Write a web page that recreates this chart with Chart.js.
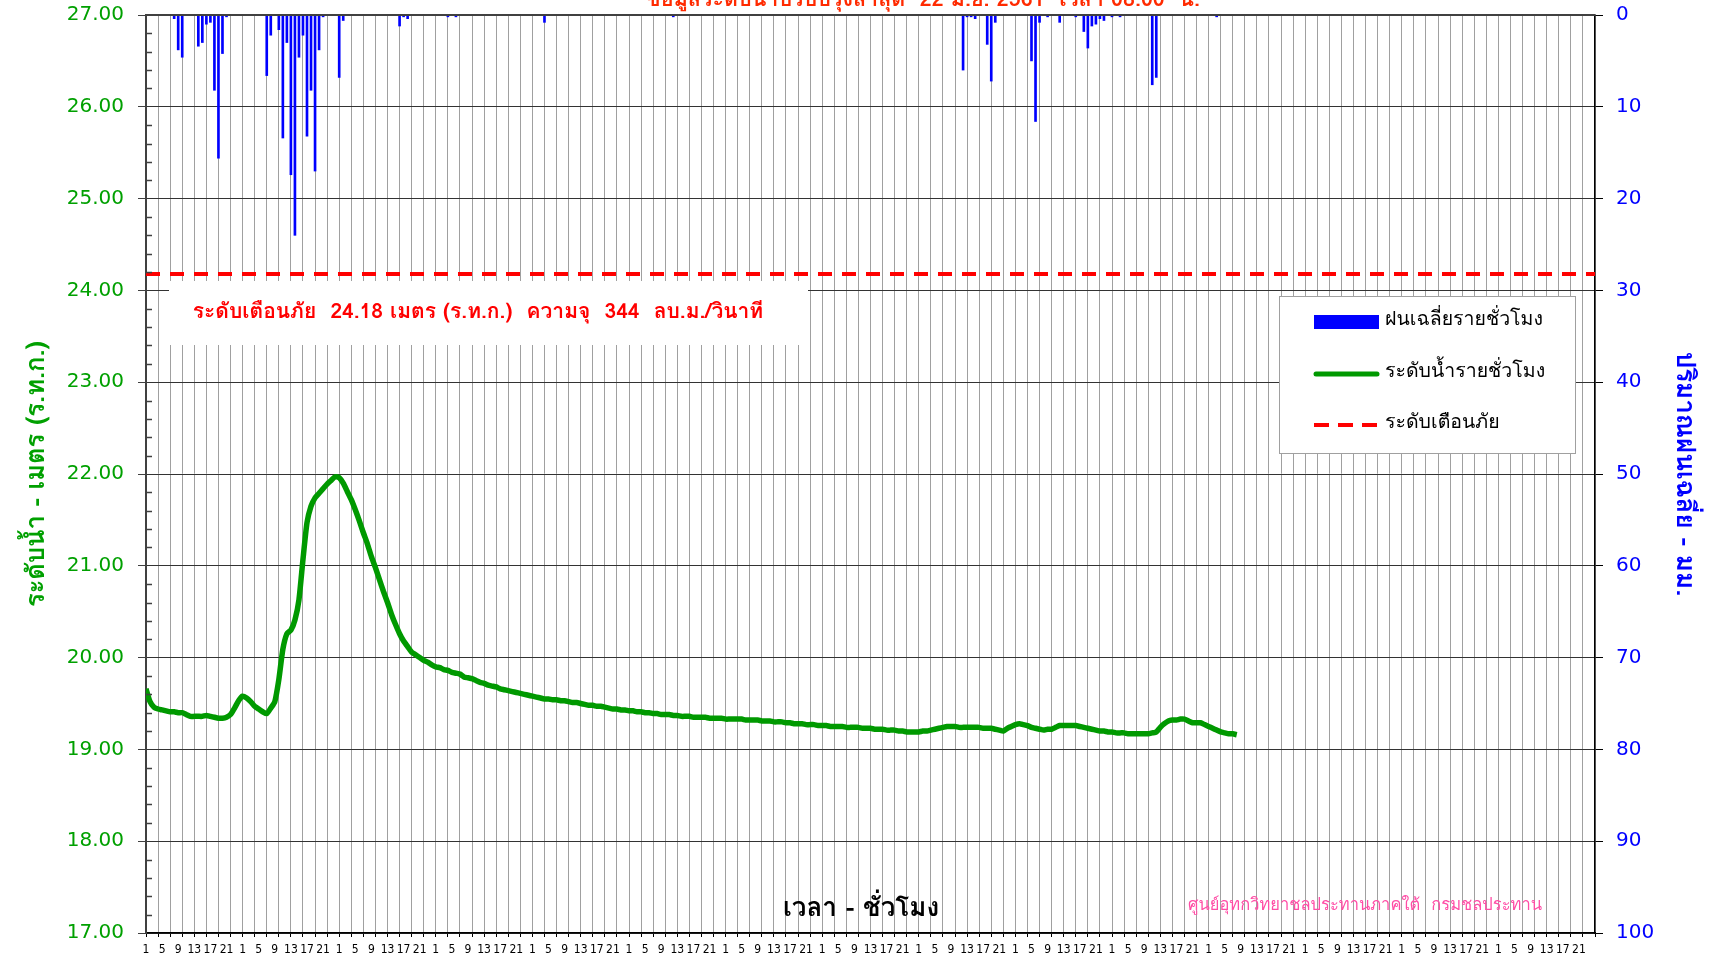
<!DOCTYPE html>
<html>
<head>
<meta charset="utf-8">
<script src="https://cdn.jsdelivr.net/npm/chart.js@4.4.1/dist/chart.umd.min.js"></script>
<style>
  body { margin: 0; background: #fff; }
  canvas { display: block; }
</style>
</head>
<body>
<canvas id="levelChart" width="1713" height="957"></canvas>
<script>
// hourly water level (m, MSL) from hour 1 of day 1 up to 22 Jun 08:00
const waterLevel = [
  19.66, 19.52, 19.46, 19.44, 19.43, 19.42, 19.41, 19.41, 19.40, 19.40, 19.38, 19.36,
  19.36, 19.36, 19.36, 19.37, 19.36, 19.35, 19.34, 19.34, 19.35, 19.38, 19.45, 19.53,
  19.58, 19.56, 19.52, 19.47, 19.44, 19.41, 19.39, 19.45, 19.52, 19.76, 20.09, 20.26,
  20.30, 20.41, 20.63, 21.07, 21.47, 21.65, 21.74, 21.79, 21.84, 21.89, 21.93, 21.97,
  21.96, 21.90, 21.81, 21.72, 21.61, 21.49, 21.36, 21.24, 21.10, 20.98, 20.85, 20.72,
  20.60, 20.47, 20.36, 20.26, 20.18, 20.12, 20.06, 20.03, 20.00, 19.97, 19.95, 19.92,
  19.90, 19.89, 19.87, 19.86, 19.84, 19.83, 19.82, 19.79, 19.78, 19.77, 19.75, 19.73,
  19.72, 19.70, 19.69, 19.68, 19.66, 19.65, 19.64, 19.63, 19.62, 19.61, 19.60, 19.59,
  19.58, 19.57, 19.56, 19.55, 19.55, 19.54, 19.54, 19.53, 19.53, 19.52, 19.51, 19.51,
  19.50, 19.49, 19.48, 19.48, 19.47, 19.47, 19.46, 19.45, 19.44, 19.44, 19.43, 19.43,
  19.42, 19.42, 19.41, 19.41, 19.40, 19.40, 19.39, 19.39, 19.38, 19.38, 19.38, 19.37,
  19.37, 19.36, 19.36, 19.36, 19.35, 19.35, 19.35, 19.35, 19.34, 19.34, 19.34, 19.34,
  19.33, 19.33, 19.33, 19.33, 19.33, 19.32, 19.32, 19.32, 19.32, 19.31, 19.31, 19.31,
  19.30, 19.30, 19.30, 19.29, 19.29, 19.28, 19.28, 19.28, 19.27, 19.27, 19.27, 19.26,
  19.26, 19.26, 19.25, 19.25, 19.25, 19.25, 19.24, 19.24, 19.24, 19.24, 19.23, 19.23,
  19.23, 19.22, 19.22, 19.22, 19.21, 19.21, 19.21, 19.20, 19.20, 19.19, 19.19, 19.19,
  19.19, 19.20, 19.20, 19.21, 19.22, 19.23, 19.24, 19.25, 19.25, 19.25, 19.24, 19.24,
  19.24, 19.24, 19.24, 19.24, 19.23, 19.23, 19.23, 19.22, 19.21, 19.20, 19.23, 19.25,
  19.27, 19.28, 19.27, 19.26, 19.24, 19.23, 19.22, 19.21, 19.22, 19.22, 19.24, 19.26,
  19.26, 19.26, 19.26, 19.26, 19.25, 19.24, 19.23, 19.22, 19.21, 19.20, 19.20, 19.19,
  19.19, 19.18, 19.18, 19.18, 19.17, 19.17, 19.17, 19.17, 19.17, 19.17, 19.18, 19.19,
  19.24, 19.28, 19.31, 19.32, 19.32, 19.33, 19.33, 19.31, 19.29, 19.29, 19.29, 19.27,
  19.25, 19.23, 19.21, 19.19, 19.18, 19.17, 19.17, 19.16
];

// hourly average rain (mm) - only the hours that had rain
const rainHour = [7, 8, 9, 13, 14, 15, 16, 17, 18, 19, 20, 30, 31, 33, 34, 35, 36, 37, 38, 39, 40,
  41, 42, 43, 44, 48, 49, 63, 64, 65, 75, 77, 99, 131, 203, 204, 205, 206, 209, 210, 211,
  220, 221, 222, 224, 227, 231, 233, 234, 235, 236, 237, 238, 240, 242, 250, 251, 266];
const rainMm = [0.4, 3.8, 4.6, 3.4, 3.0, 1.0, 0.8, 8.2, 15.6, 4.2, 0.2, 6.6, 2.2, 1.6, 13.4, 3.0, 17.4, 24.0, 4.6, 2.2, 13.2,
  8.2, 17.0, 3.8, 0.2, 6.8, 0.6, 1.2, 0.2, 0.4, 0.2, 0.2, 0.8, 0.2, 6.0, 0.2, 0.2, 0.4, 3.2, 7.2, 0.8,
  5.0, 11.6, 0.8, 0.2, 0.8, 0.2, 1.8, 3.6, 1.2, 1.0, 0.4, 0.6, 0.2, 0.2, 7.6, 6.8, 0.2];

const warnLevel = 24.18;
const totalHours = 360;   // 15 days on the time axis
const hourLabels = ['1', '5', '9', '13', '17', '21'];

const thaiFont = 'Tahoma, Waree, Loma, "Noto Sans Thai", "Noto Sans", sans-serif';
const green = '#009900';

// extra drawing: frame top, minor ticks, notes and legend box
const notes = {
  id: 'notes',
  beforeDatasetsDraw(chart) {
    const ctx = chart.ctx;
    ctx.save();
    // white boxes hide the grid behind the warning note and the legend
    ctx.fillStyle = '#fff';
    ctx.fillRect(169, 281, 639, 64);
    ctx.fillRect(1279, 296, 296, 157);
    ctx.strokeStyle = '#a0a0a0';
    ctx.lineWidth = 1;
    ctx.strokeRect(1279.5, 296.5, 296, 157);
    ctx.restore();
  },
  afterDraw(chart) {
    const ctx = chart.ctx;
    const y = chart.scales.y;
    const area = chart.chartArea;
    ctx.save();
    ctx.strokeStyle = '#404040';
    ctx.lineWidth = 2;
    ctx.beginPath();
    ctx.moveTo(area.left - 1, area.top);
    ctx.lineTo(area.right, area.top);
    ctx.stroke();
    // minor ticks every 0.2 m, inside the plot
    ctx.lineWidth = 1.5;
    for (let i = 0; i <= 50; i++) {
      if (i % 5 === 0) continue;
      const py = Math.round(y.getPixelForValue(17 + i * 0.2)) + 0.5;
      ctx.beginPath();
      ctx.moveTo(area.left, py);
      ctx.lineTo(area.left + 6, py);
      ctx.stroke();
    }

    ctx.textAlign = 'center';
    ctx.textBaseline = 'alphabetic';
    ctx.fillStyle = '#ff2a00';
    ctx.font = 'bold 21.5px ' + thaiFont;
    ctx.fillText('ข้อมูลระดับน้ำปรับปรุงล่าสุด  22 มิ.ย. 2561  เวลา 08.00  น.', 923, 6);

    ctx.textBaseline = 'middle';
    ctx.fillStyle = '#ff0000';
    ctx.font = 'bold 21px ' + thaiFont;
    ctx.fillText('ระดับเตือนภัย  ' + warnLevel.toFixed(2) + ' เมตร (ร.ท.ก.)  ความจุ  344  ลบ.ม./วินาที', 478, 313);

    ctx.fillStyle = '#000';
    ctx.font = 'bold 26px ' + thaiFont;
    ctx.fillText('เวลา - ชั่วโมง', 861, 910);

    ctx.fillStyle = '#ff4da6';
    ctx.font = '16.5px ' + thaiFont;
    ctx.fillText('ศูนย์อุทกวิทยาชลประทานภาคใต้  กรมชลประทาน', 1365, 906);

    // legend
    const ds = chart.data.datasets;
    ctx.textAlign = 'left';
    ctx.fillStyle = '#0000ff';
    ctx.fillRect(1314, 315, 65, 14);
    ctx.strokeStyle = green;
    ctx.lineWidth = 5;
    ctx.lineCap = 'round';
    ctx.beginPath();
    ctx.moveTo(1316, 374);
    ctx.lineTo(1377, 374);
    ctx.stroke();
    ctx.strokeStyle = '#ff0000';
    ctx.lineWidth = 4;
    ctx.lineCap = 'butt';
    ctx.setLineDash([15, 9]);
    ctx.beginPath();
    ctx.moveTo(1314, 425);
    ctx.lineTo(1379, 425);
    ctx.stroke();
    ctx.setLineDash([]);
    ctx.fillStyle = '#000';
    ctx.font = '19.5px ' + thaiFont;
    ctx.fillText(ds[2].label, 1385, 321);
    ctx.fillText(ds[0].label, 1385, 373);
    ctx.fillText(ds[1].label, 1385, 424);
    ctx.restore();
  }
};

// fixed box sizes so the plot area matches the original frame
const fixWidth = w => s => { s.width = w; s.paddingTop = 0; s.paddingBottom = 0; };

new Chart(document.getElementById('levelChart'), {
  type: 'line',
  data: {
    datasets: [
      {
        label: 'ระดับน้ำรายชั่วโมง',
        data: waterLevel.map((v, i) => ({ x: i, y: v })),
        yAxisID: 'y',
        borderColor: green,
        borderWidth: 5.5,
        pointRadius: 0,
        tension: 0.2,
        order: 1
      },
      {
        label: 'ระดับเตือนภัย',
        data: [{ x: 0, y: warnLevel }, { x: totalHours, y: warnLevel }],
        yAxisID: 'y',
        borderColor: '#ff0000',
        borderWidth: 4,
        borderDash: [14, 10],
        pointRadius: 0,
        order: 2
      },
      {
        type: 'bar',
        label: 'ฝนเฉลี่ยรายชั่วโมง',
        data: rainHour.map((h, i) => ({ x: h, y: rainMm[i] })),
        yAxisID: 'y2',
        backgroundColor: '#0000ff',
        barThickness: 2,
        order: 3
      }
    ]
  },
  options: {
    responsive: false,
    animation: false,
    devicePixelRatio: 1,
    layout: { padding: { top: 15, left: 0, right: 0, bottom: 0 } },
    plugins: { legend: { display: false }, tooltip: { enabled: false } },
    scales: {
      x: {
        type: 'linear',
        min: 0,
        max: totalHours,
        offset: false,
        afterFit: s => { s.height = 24; s.paddingLeft = 0; s.paddingRight = 0; },
        border: { color: '#000', width: 1.5 },
        grid: {
          offset: false,
          color: c => c.tick.value % 3 === 0 ? '#a0a0a0' : 'rgba(0,0,0,0)',
          tickColor: c => c.tick.value % 3 === 0 ? '#000' : 'rgba(0,0,0,0)',
          tickLength: 4
        },
        ticks: {
          stepSize: 1,
          autoSkip: false,
          maxRotation: 0,
          minRotation: 0,
          padding: 6,
          color: '#000',
          font: { family: '"Liberation Sans Narrow", "DejaVu Sans Condensed", sans-serif', size: 12 },
          callback: v => (v % 4 === 0 && v < totalHours) ? hourLabels[(v % 24) / 4] : ''
        }
      },
      y: {
        position: 'left',
        min: 17,
        max: 27,
        afterFit: fixWidth(146),
        border: { color: '#404040', width: 2 },
        grid: { color: '#333', tickColor: '#404040', tickLength: 8 },
        ticks: {
          stepSize: 1,
          padding: 14,
          color: '#00a000',
          font: { family: '"DejaVu Sans", sans-serif', size: 20 },
          callback: v => v.toFixed(2)
        },
        title: {
          display: true,
          text: 'ระดับน้ำ - เมตร (ร.ท.ก.)',
          color: '#00a000',
          font: { family: thaiFont, size: 25.5, weight: 'bold' },
          padding: { top: 23, bottom: 0 }
        }
      },
      y2: {
        position: 'right',
        reverse: true,
        min: 0,
        max: 100,
        afterFit: fixWidth(118),
        border: { color: '#000', width: 1.5 },
        grid: { drawOnChartArea: false, tickColor: '#000', tickLength: 8 },
        ticks: {
          stepSize: 10,
          padding: 13,
          color: '#0000ff',
          font: { family: '"DejaVu Sans", sans-serif', size: 20 }
        },
        title: {
          display: true,
          text: 'ปริมาณฝนเฉลี่ย - มม.',
          color: '#0000ff',
          font: { family: thaiFont, size: 26, weight: 'bold' },
          padding: { top: 15, bottom: 0 }
        }
      }
    }
  },
  plugins: [notes]
});
</script>
</body>
</html>
